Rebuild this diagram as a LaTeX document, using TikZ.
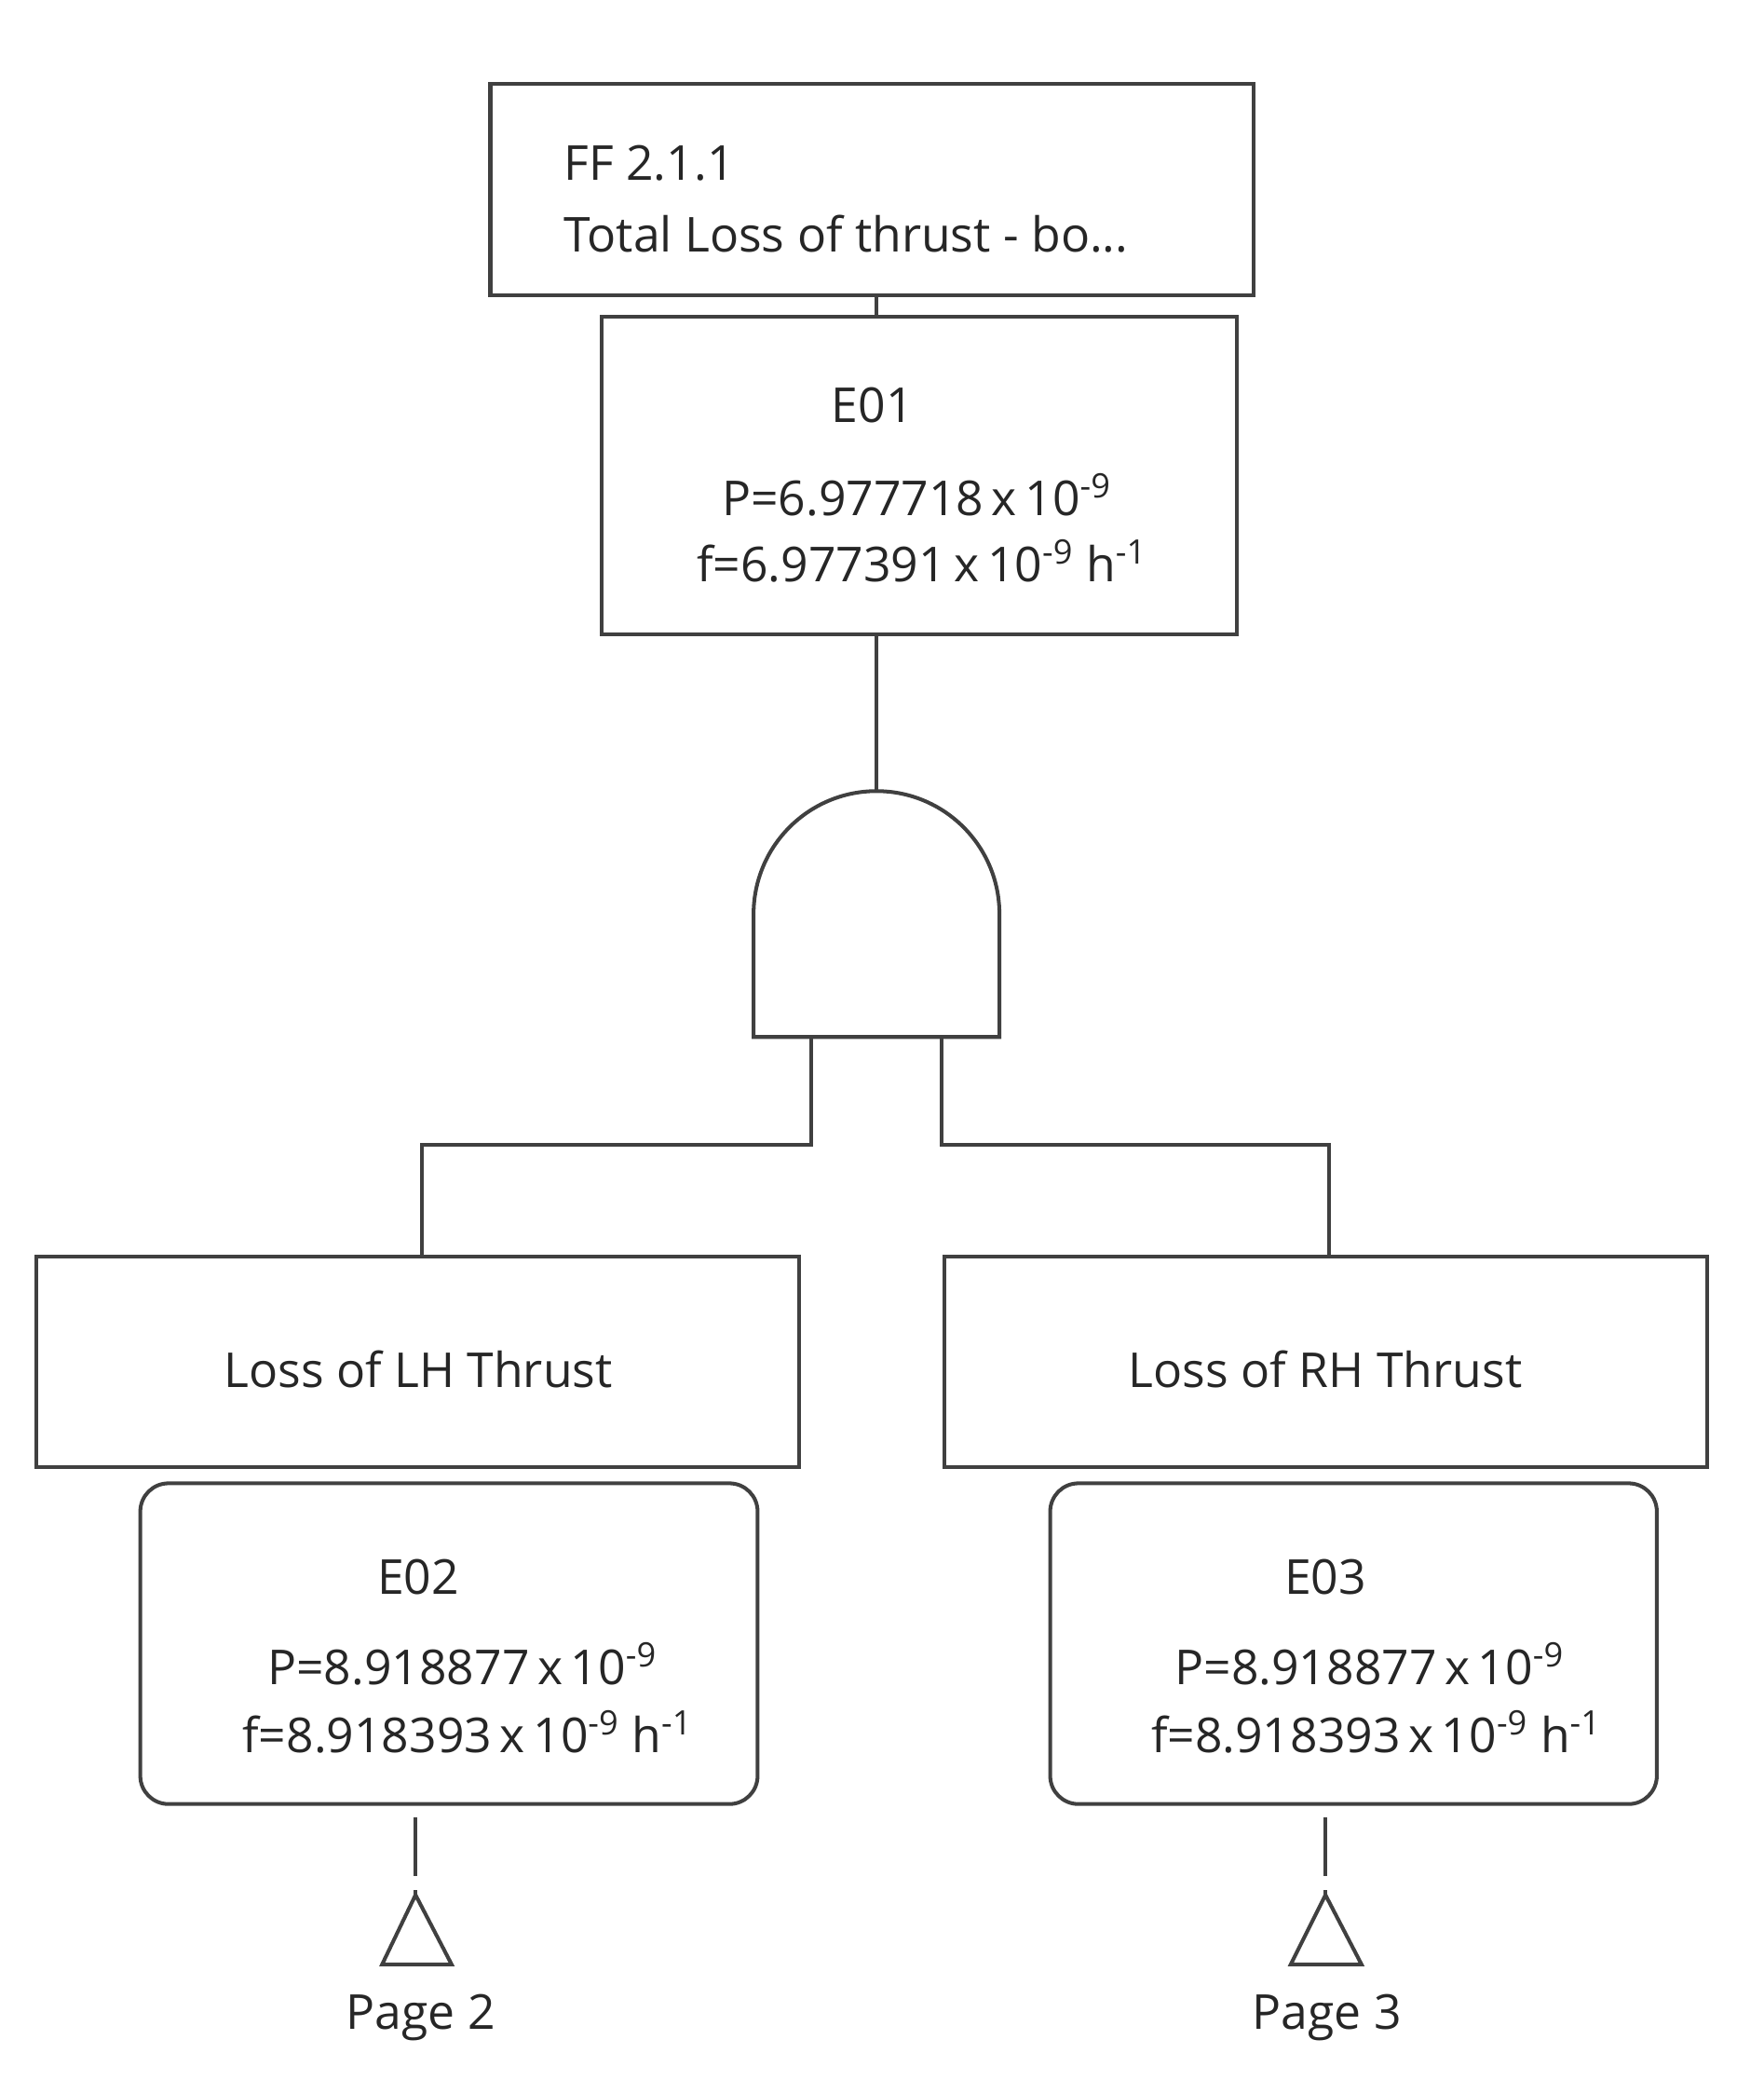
\documentclass[tikz,border=0pt]{standalone}
\usepackage{fontspec}
\setmainfont{Open Sans}
\newcommand{\sups}[1]{\textsuperscript{#1}}
\begin{document}
\begin{tikzpicture}[x=0.02cm,y=-0.02cm,
  bx/.style={draw=black!75,line width=1.6pt,inner sep=0pt},
  ln/.style={draw=black!75,line width=1.6pt},
  txt/.style={font=\fontsize{20.5}{24}\selectfont,text=black!85}]
\useasboundingbox (0,0) rectangle (1320,1567);
% top box
\draw[bx] (367,63) rectangle (938,221);
\node[txt,anchor=west] (t1) at (416,122) {FF 2.1.1};
\node[txt,anchor=west] (t2) at (416,175) {Total Loss of thrust - bo...};
\coordinate (topb) at (656,221);
% E01
\draw[bx] (450,237) rectangle (926,475);
\coordinate (e1t) at (656,237);
\coordinate (e1b) at (656,475);
\node[txt] (e1) at (653,303) {E01};
\node[txt] (e1p) at (686,370) {P=6.977718\,x\,10\sups{-9}};
\node[txt] (e1f) at (690,420) {f=6.977391\,x\,10\sups{-9} h\sups{-1}};
\draw[ln] (topb) -- (e1t);
% gate
\coordinate (gt) at (656,592);
\draw[ln] (564,776) -- (564,684) arc[start angle=180,end angle=360,x radius=92,y radius=92] -- (748,776) -- cycle;
\draw[ln] (e1b) -- (gt);
% outputs
\coordinate (lt) at (316,940);
\coordinate (rt) at (995,940);
\draw[ln] (607,776) -- (607,857) -- (316,857) -- (lt);
\draw[ln] (705,776) -- (705,857) -- (995,857) -- (rt);
% LH / RH boxes
\draw[bx] (27,940) rectangle (598,1098);
\node[txt] (lh) at (313,1025) {Loss of LH Thrust};
\draw[bx] (707,940) rectangle (1278,1098);
\node[txt] (rh) at (992,1025) {Loss of RH Thrust};
% E02/E03
\draw[bx,rounded corners=12] (105,1110) rectangle (567,1350);
\node[txt] (e2) at (313,1180) {E02};
\node[txt] (e2p) at (346,1245) {P=8.918877\,x\,10\sups{-9}};
\node[txt] (e2f) at (350,1296) {f=8.918393\,x\,10\sups{-9} h\sups{-1}};
\draw[bx,rounded corners=12] (786,1110) rectangle (1240,1350);
\node[txt] (e3) at (992,1180) {E03};
\node[txt] (e3p) at (1025,1245) {P=8.918877\,x\,10\sups{-9}};
\node[txt] (e3f) at (1030,1296) {f=8.918393\,x\,10\sups{-9} h\sups{-1}};
% transfer triangles
\draw[ln,dash pattern=on 25pt off 6pt] (311,1360) -- (311,1418);
\draw[ln] (311,1418) -- (338,1470) -- (286,1470) -- cycle;
\node[txt] (p2) at (315,1510) {Page 2};
\draw[ln,dash pattern=on 25pt off 6pt] (992,1360) -- (992,1418);
\draw[ln] (992,1418) -- (1019,1470) -- (966,1470) -- cycle;
\node[txt] (p3) at (993,1510) {Page 3};
\end{tikzpicture}
\end{document}
